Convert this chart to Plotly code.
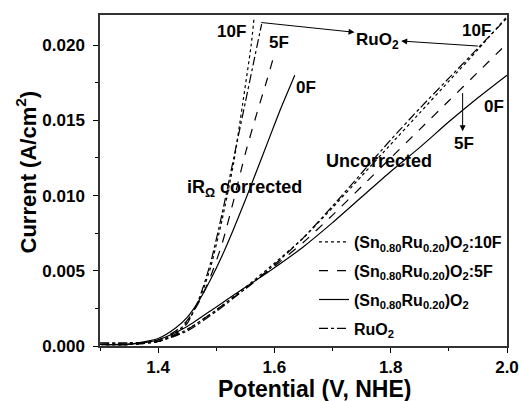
import plotly.graph_objects as go

# ---------------- data ----------------
# iR-corrected curves
v_corr_0f = [1.30, 1.35, 1.40, 1.43, 1.45, 1.47, 1.49, 1.51, 1.53, 1.55, 1.57, 1.59, 1.61, 1.635]
i_corr_0f = [0.0001, 0.00012, 0.0005, 0.0012, 0.0019, 0.0030, 0.0044, 0.0060, 0.0078, 0.0097, 0.0117, 0.0137, 0.0157, 0.0180]

v_corr_5f = [1.30, 1.35, 1.40, 1.43, 1.45, 1.47, 1.49, 1.51, 1.53, 1.55, 1.57, 1.585, 1.60]
i_corr_5f = [0.0001, 0.0001, 0.0004, 0.0010, 0.0017, 0.0029, 0.0046, 0.0068, 0.0097, 0.0128, 0.0155, 0.0174, 0.0194]

v_corr_10f = [1.30, 1.35, 1.40, 1.43, 1.45, 1.47, 1.49, 1.51, 1.53, 1.545, 1.56, 1.565]
i_corr_10f = [0.0001, 0.0001, 0.0003, 0.0009, 0.0016, 0.0030, 0.0052, 0.0084, 0.0122, 0.0160, 0.0200, 0.0218]

v_corr_ruo2 = [1.30, 1.35, 1.40, 1.43, 1.45, 1.47, 1.49, 1.51, 1.53, 1.55, 1.565, 1.578]
i_corr_ruo2 = [0.0002, 0.0002, 0.0003, 0.0008, 0.0015, 0.0031, 0.0055, 0.0088, 0.0125, 0.0162, 0.0190, 0.0214]

# uncorrected curves
v_unc = [1.30, 1.35, 1.40, 1.45, 1.50, 1.55, 1.60, 1.65, 1.70, 1.75, 1.80, 1.85, 1.90, 1.95, 2.00]
i_unc_0f = [0.0001, 0.00012, 0.0004, 0.0013, 0.0026, 0.0039, 0.0052, 0.0066, 0.0082, 0.0099, 0.0116, 0.0132, 0.0149, 0.0165, 0.0180]
i_unc_5f = [0.0001, 0.0001, 0.0003, 0.0011, 0.0024, 0.0038, 0.0053, 0.0069, 0.0087, 0.0106, 0.0125, 0.0144, 0.0163, 0.0182, 0.0201]
i_unc_10f = [0.0001, 0.0001, 0.0003, 0.0011, 0.0024, 0.0039, 0.0055, 0.0072, 0.0092, 0.0113, 0.0134, 0.0155, 0.0176, 0.0197, 0.0219]
i_unc_ruo2 = [0.0002, 0.0002, 0.0003, 0.0010, 0.0023, 0.0038, 0.0054, 0.0072, 0.0093, 0.0115, 0.0137, 0.0158, 0.0178, 0.0198, 0.0218]

x_ticks = [1.4, 1.6, 1.8, 2.0]
x_tick_labels = ["1.4", "1.6", "1.8", "2.0"]
y_ticks = [0.000, 0.005, 0.010, 0.015, 0.020]
y_tick_labels = ["0.000", "0.005", "0.010", "0.015", "0.020"]

x_title = "Potential (V, NHE)"
y_title = "Current (A/cm<sup>2</sup>)"

names = {
    "10f": "(Sn<sub>0.80</sub>Ru<sub>0.20</sub>)O<sub>2</sub>:10F",
    "5f": "(Sn<sub>0.80</sub>Ru<sub>0.20</sub>)O<sub>2</sub>:5F",
    "0f": "(Sn<sub>0.80</sub>Ru<sub>0.20</sub>)O<sub>2</sub>",
    "ruo2": "RuO<sub>2</sub>",
}

FONT = "Liberation Sans, Arial, sans-serif"
LW = 1.2

fig = go.Figure()

series = [
    ("10f", "dot", v_corr_10f, i_corr_10f, v_unc, i_unc_10f),
    ("5f", "dash", v_corr_5f, i_corr_5f, v_unc, i_unc_5f),
    ("0f", "solid", v_corr_0f, i_corr_0f, v_unc, i_unc_0f),
    ("ruo2", "dashdot", v_corr_ruo2, i_corr_ruo2, v_unc, i_unc_ruo2),
]
for key, dash, vc, ic, vu, iu in series:
    fig.add_trace(go.Scatter(x=vc, y=ic, mode="lines", name=names[key], legendgroup=key,
                             line=dict(color="black", width=LW, dash=dash, shape="spline", smoothing=0.6)))
    fig.add_trace(go.Scatter(x=vu, y=iu, mode="lines", name=names[key], legendgroup=key, showlegend=False,
                             line=dict(color="black", width=LW, dash=dash, shape="spline", smoothing=0.6)))

txt = dict(family=FONT, size=17, color="black", weight="bold")

labels = [
    (1.5266, 0.0209, "10F"),
    (1.607, 0.0202, "5F"),
    (1.655, 0.0172, "0F"),
    (1.777, 0.0203, "RuO<sub>2</sub>"),
    (1.947, 0.0210, "10F"),
    (1.978, 0.0159, "0F"),
    (1.9266, 0.01345, "5F"),
]
for x, y, t in labels:
    fig.add_annotation(x=x, y=y, text=t, showarrow=False, font=txt, xref="x", yref="y")

fig.add_annotation(x=1.7807, y=0.0123, text="Uncorrected", showarrow=False,
                   font=dict(family=FONT, size=18, color="black", weight="bold"))
fig.add_annotation(x=1.549, y=0.0105, text="iR<sub>Ω</sub> corrected", showarrow=False,
                   font=dict(family=FONT, size=18, color="black", weight="bold"))

# arrows (head at x,y ; tail at ax,ay)
arrows = [
    (1.7378, 0.02085, 1.5747, 0.02151),
    (1.818, 0.02027, 1.9524, 0.01993),
    (1.9237, 0.01427, 1.9237, 0.01691),
]
for x, y, ax, ay in arrows:
    fig.add_annotation(x=x, y=y, ax=ax, ay=ay, xref="x", yref="y", axref="x", ayref="y",
                       text="", showarrow=True, arrowhead=2, arrowsize=1.2, arrowwidth=1, arrowcolor="black")

# axis titles as paper annotations for precise placement
fig.add_annotation(x=0.528, y=-0.13, xref="paper", yref="paper", xanchor="center", yanchor="middle",
                   text=x_title, showarrow=False,
                   font=dict(family=FONT, size=23, color="black", weight="bold"))
fig.add_annotation(x=-0.182, y=0.527, xref="paper", yref="paper", xanchor="center", yanchor="middle",
                   text=y_title, textangle=-90, showarrow=False,
                   font=dict(family=FONT, size=22, color="black", weight="bold"))

fig.update_layout(
    width=519, height=401,
    margin=dict(l=100, r=12, t=15, b=55, autoexpand=False),
    paper_bgcolor="white", plot_bgcolor="white",
    font=dict(family=FONT, color="black"),
    showlegend=True,
    legend=dict(x=1.0, y=0.0, xanchor="right", yanchor="bottom", bgcolor="rgba(0,0,0,0)",
                font=dict(family=FONT, size=16, color="black", weight="bold"),
                tracegroupgap=5, itemwidth=30),
    xaxis=dict(range=[1.3, 2.0], tickvals=x_ticks, ticktext=x_tick_labels,
               ticks="outside", ticklen=5, tickwidth=1, tickcolor="black", automargin=False,
               minor=dict(dtick=0.1, tick0=1.3, ticks="outside", ticklen=3, tickcolor="black"),
               showline=True, linecolor="#333", linewidth=1.5, mirror=True, showgrid=False, zeroline=False,
               tickfont=dict(family=FONT, size=17, color="black", weight="bold")),
    yaxis=dict(range=[0, 0.022], tickvals=y_ticks, ticktext=y_tick_labels,
               ticks="outside", ticklen=5, tickwidth=1, tickcolor="black", automargin=False,
               minor=dict(dtick=0.0025, tick0=0, ticks="outside", ticklen=3, tickcolor="black"),
               showline=True, linecolor="#333", linewidth=1.5, mirror=True, showgrid=False, zeroline=False,
               ticklabelstandoff=5,
               tickfont=dict(family=FONT, size=17, color="black", weight="bold")),
)

# remove the browser's default 8px body margin so the figure sits at the page origin
fig.write_html("out.html", config={"displayModeBar": False},
               post_script="document.body.style.margin='0';")
